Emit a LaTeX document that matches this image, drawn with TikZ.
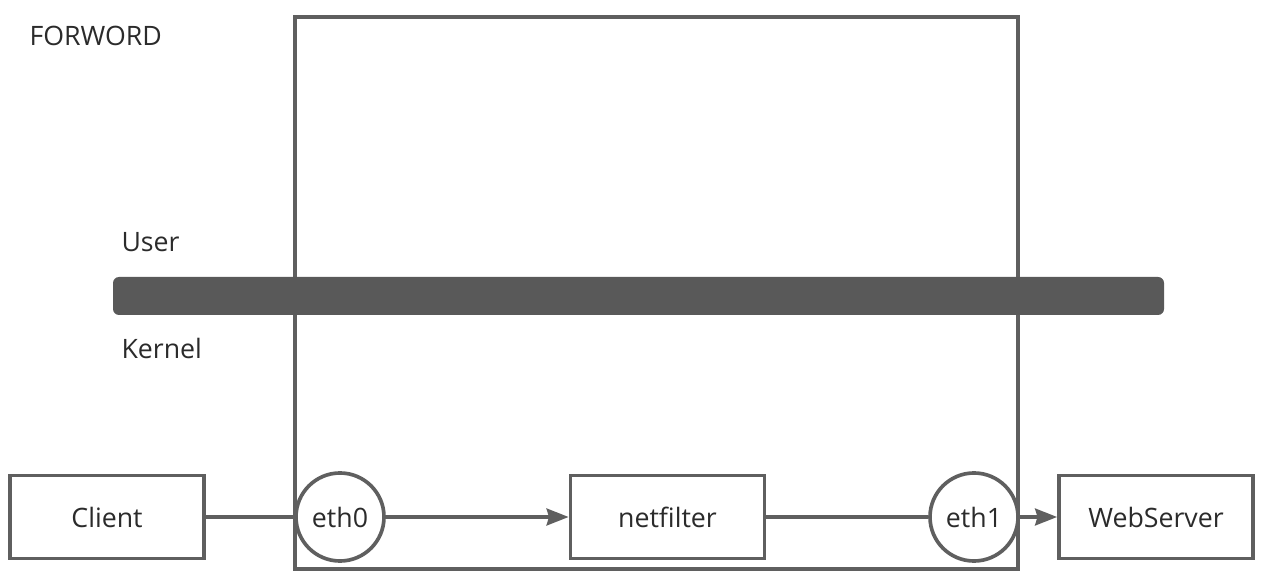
\documentclass[tikz,border=0pt]{standalone}
\usepackage{fontspec}
\setmainfont{Open Sans}
\usetikzlibrary{arrows.meta}
\definecolor{linegray}{HTML}{5F5F5F}
\definecolor{bargray}{HTML}{595959}
\definecolor{textgray}{HTML}{2B2B2B}
\begin{document}
\begin{tikzpicture}[x=0.025cm,y=-0.025cm,>={Stealth[length=0.55cm,width=0.42cm,inset=0.06cm]},
  line width=2.6pt,
  every node/.style={text=textgray,font=\fontsize{19}{23}\selectfont},
  hostbox/.style={draw=linegray,fill=white,minimum width=4.85cm,minimum height=2.075cm,inner sep=0pt},
  nic/.style={draw=linegray,fill=white,circle,minimum size=2.2cm,inner sep=0pt},
  flow/.style={draw=linegray}]
\useasboundingbox (0,0) rectangle (1264,576);

% host and user/kernel split
\draw[linegray] (295,17) rectangle (1018,569);
\fill[bargray,rounded corners=0.15cm] (113,277) rectangle (1164,315);

\node[anchor=west] (title) at (23,36) {FORWORD};
\node[anchor=west] (user) at (115,242) {User};
\node[anchor=west] (kernel) at (115,348) {Kernel};

% packet path
\node[hostbox] (client) at (107,517) {Client};
\node[nic] (eth0) at (340,517) {eth0};
\node[hostbox] (netfilter) at (667.5,517) {netfilter};
\node[nic] (eth1) at (974,517) {eth1};
\node[hostbox] (server) at (1156,517) {WebServer};

\draw[flow] (client) -- (eth0);
\draw[flow,->] (eth0) -- (netfilter);
\draw[flow] (netfilter) -- (eth1);
\draw[flow,->] (eth1) -- (server);
\end{tikzpicture}
\end{document}
